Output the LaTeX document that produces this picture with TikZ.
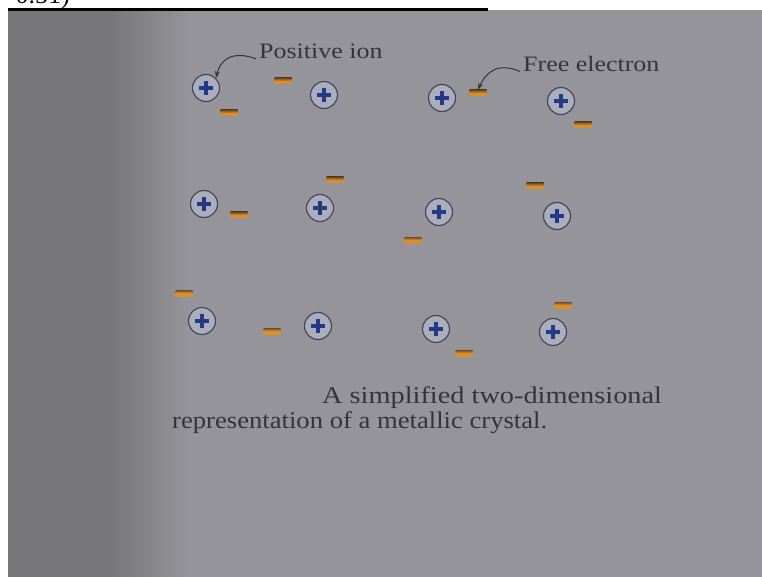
\documentclass[tikz,border=0pt]{standalone}
\usepackage{fontspec}
\setmainfont{Liberation Serif}
\newfontfamily\wideserif[FakeStretch=1.18]{Liberation Serif}
\newfontfamily\capserifa[FakeStretch=1.18]{Liberation Serif}
\newfontfamily\capserifb[FakeStretch=1.11]{Liberation Serif}
\usetikzlibrary{arrows.meta}
\definecolor{pagegray}{HTML}{94949A}
\definecolor{darkband}{HTML}{78777A}
\definecolor{ionring}{HTML}{444859}
\definecolor{ionfill}{HTML}{ABADBC}
\definecolor{ionplus}{HTML}{223A86}
\definecolor{elorange}{HTML}{D8902E}
\definecolor{elbrown}{HTML}{6E4A22}
\definecolor{inkgray}{HTML}{34343A}
\tikzset{
  x=1pt, y=-1pt,
  ion/.style={circle, draw=ionring, line width=1.2pt, fill=ionfill, minimum size=27pt, inner sep=0pt,
    path picture={
      \fill[ionplus] ([xshift=-7pt,yshift=-2pt]path picture bounding box.center) rectangle ([xshift=7pt,yshift=2pt]path picture bounding box.center);
      \fill[ionplus] ([xshift=-2pt,yshift=-7pt]path picture bounding box.center) rectangle ([xshift=2pt,yshift=7pt]path picture bounding box.center);
    }},
  electron/.style={rectangle, minimum width=17pt, minimum height=6pt, inner sep=0pt,
    top color=elbrown, bottom color=elorange, middle color=elorange},
  labeltext/.style={text=inkgray, font=\wideserif\fontsize{22}{24}\selectfont, inner sep=0pt, anchor=base west},
  captiontext/.style={text=inkgray, inner sep=0pt, anchor=base west},
  pointer/.style={draw=inkgray, line width=1pt, -{Stealth[length=7pt,width=5pt]}}
}
\begin{document}
\begin{tikzpicture}
\useasboundingbox (0,0) rectangle (762,577);
\fill[white] (0,0) rectangle (762,577);
% top strip text (cut off as in the photo)
\begin{scope}
  \clip (0,0) rectangle (762,8);
  \node[anchor=base west, inner sep=0pt, font=\fontsize{26}{28}\selectfont] (toptext) at (2,4) {$\cdot$ 0.51)};
\end{scope}
% photo background
\fill[pagegray] (8,10) rectangle (762,577);
\fill[darkband] (8,10) rectangle (110,577);
\shade[left color=darkband, right color=pagegray] (110,10) rectangle (190,577);
\draw[black, line width=3pt] (8,9.5) -- (488,9.5);
% ions
\node[ion] (i11) at (206,88) {};
\node[ion] (i12) at (324,95) {};
\node[ion] (i13) at (442,98) {};
\node[ion] (i14) at (561,101) {};
\node[ion] (i21) at (204,204) {};
\node[ion] (i22) at (320,208) {};
\node[ion] (i23) at (439,212) {};
\node[ion] (i24) at (557,216) {};
\node[ion] (i31) at (202,321) {};
\node[ion] (i32) at (318,326) {};
\node[ion] (i33) at (436,329) {};
\node[ion] (i34) at (553,332) {};
% electrons
\node[electron] (e1) at (229,113) {};
\node[electron] (e2) at (283,81) {};
\node[electron] (e3) at (478,93) {};
\node[electron] (e4) at (583,125) {};
\node[electron] (e5) at (239,215) {};
\node[electron] (e6) at (335,180) {};
\node[electron] (e7) at (413,240) {};
\node[electron] (e8) at (535,186) {};
\node[electron] (e9) at (184,293) {};
\node[electron] (e10) at (272,331) {};
\node[electron] (e11) at (464,353) {};
\node[electron] (e12) at (563,305) {};
% labels
\node[labeltext] (lpos) at (259,59) {Positive ion};
\node[labeltext] (lfree) at (523,72) {Free electron};
\draw[pointer] ([xshift=-3pt,yshift=-7pt]lpos.west) .. controls (232,50) and (220,60) .. (i11.north east);
\draw[pointer] ([xshift=-3pt,yshift=-7pt]lfree.west) .. controls (498,62) and (486,72) .. (e3.north);
% caption
\node[captiontext, font=\capserifa\fontsize{24}{26}\selectfont] (cap1) at (322,403) {A simplified two-dimensional};
\node[captiontext, font=\capserifb\fontsize{24}{26}\selectfont] (cap2) at (172,428) {representation of a metallic crystal.};
\end{tikzpicture}
\end{document}
